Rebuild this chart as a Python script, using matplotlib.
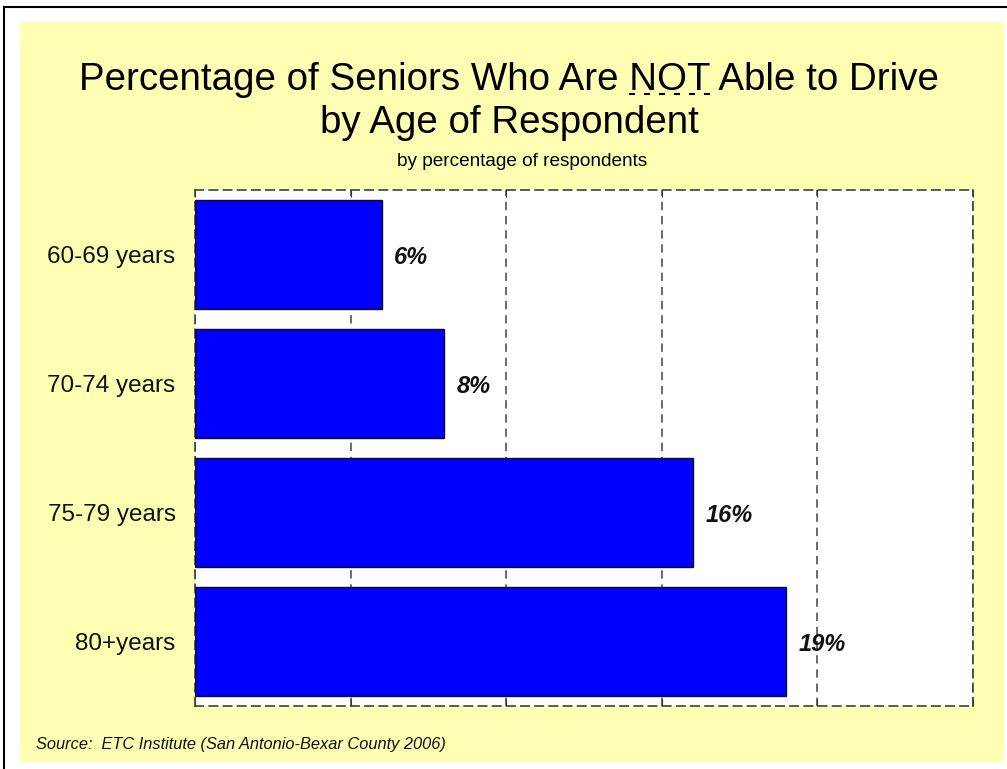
import matplotlib.pyplot as plt
from matplotlib.patches import Rectangle
from matplotlib.lines import Line2D


# DATA
age_groups = ["60-69 years", "70-74 years", "75-79 years", "80+years"]
not_driving_pct = [6, 8, 16, 19]
x_ticks = [0, 5, 10, 15, 20, 25]

# FIGURE
fig = plt.figure(figsize=(10.07, 7.69), dpi=100)
fig.patch.set_facecolor("white")
plt.rcParams["font.family"] = ["Liberation Sans", "DejaVu Sans"]

W, H = 1007, 769

# YELLOW BACKGROUND
fig.patches.append(Rectangle(
    (20 / W, 1 - 762 / H),
    984 / W,
    740 / H,
    transform=fig.transFigure,
    facecolor="#FFFFB3",
    edgecolor="none",
    zorder=-2
))

# BLACK FRAME (TOP + LEFT)
fig.lines.append(Line2D(
    [4 / W, 1], [1 - 7 / H, 1 - 7 / H],
    transform=fig.transFigure, color="black", linewidth=1.5, zorder=-1
))
fig.lines.append(Line2D(
    [4 / W, 4 / W], [0, 1 - 7 / H],
    transform=fig.transFigure, color="black", linewidth=1.5, zorder=-1
))

# AXES
ax = fig.add_axes([
    195 / W,
    1 - 706 / H,
    (973 - 195) / W,
    (706 - 190) / H
])
ax.set_facecolor("white")

y_pos = list(range(len(age_groups)))

ax.barh(
    y_pos,
    not_driving_pct,
    height=0.84,
    color="#0000FF",
    edgecolor="#111111",
    linewidth=1,
    zorder=3
)

for y, v in zip(y_pos, not_driving_pct):
    ax.annotate(
        f"{v}%",
        xy=(v, y),
        xytext=(9, -2),
        textcoords="offset points",
        ha="left",
        va="center",
        fontsize=17,
        fontweight="bold",
        fontstyle="italic",
        color="#111111",
        zorder=4
    )

ax.set_xlim(0, 25)
ax.set_ylim(len(age_groups) - 0.5, -0.5)

ax.set_xticks(x_ticks)
ax.set_xticklabels([])
ax.tick_params(
    axis="x",
    direction="in",
    length=5,
    top=True,
    bottom=True,
    color="#333333"
)

ax.set_yticks(y_pos)
ax.set_yticklabels(age_groups, fontsize=17.5, color="#111111")
ax.tick_params(axis="y", length=0, pad=14)

ax.grid(
    axis="x",
    linestyle=(0, (5, 3.5)),
    color="#505050",
    linewidth=1.2,
    zorder=1
)
ax.set_axisbelow(True)

# DASHED FRAME
for side in ["top", "bottom", "left", "right"]:
    ax.spines[side].set_linestyle((0, (5, 3.5)))
    ax.spines[side].set_color("#404040")
    ax.spines[side].set_linewidth(1.2)

# TITLES
title_size = 27.7
title_1 = "Percentage of Seniors Who Are NOT Able to Drive"
t1 = fig.text(
    509 / W, 1 - 90 / H,
    title_1,
    ha="center", va="baseline",
    fontsize=title_size, color="black"
)
fig.text(
    509 / W, 1 - 133 / H,
    "by Age of Respondent",
    ha="center", va="baseline",
    fontsize=title_size, color="black"
)
fig.text(
    522 / W, 1 - 162 / H,
    "by percentage of respondents",
    ha="center", va="center",
    fontsize=13.7, color="black"
)

# DASHED UNDERLINE UNDER "NOT"
fig.canvas.draw()
renderer = fig.canvas.get_renderer()
bb_full = t1.get_window_extent(renderer)

tmp_a = fig.text(0, 0, "Percentage of Seniors Who Are NOT", fontsize=title_size)
tmp_b = fig.text(0, 0, "NOT", fontsize=title_size)
w_a = tmp_a.get_window_extent(renderer).width
w_b = tmp_b.get_window_extent(renderer).width
tmp_a.remove()
tmp_b.remove()

x_end = bb_full.x0 + w_a
x_start = x_end - w_b
y_line = H - 94

fig.lines.append(Line2D(
    [x_start / W, x_end / W],
    [y_line / H, y_line / H],
    transform=fig.transFigure,
    color="black",
    linewidth=1.5,
    linestyle=(0, (2.9, 4.3))
))

# SOURCE
fig.text(
    36 / W, 1 - 745 / H,
    "Source:  ETC Institute (San Antonio-Bexar County 2006)",
    ha="left", va="center",
    fontsize=11.8, fontstyle="italic", color="#111111"
)

# SAVE
plt.savefig("out.png", dpi=100, facecolor=fig.get_facecolor())
